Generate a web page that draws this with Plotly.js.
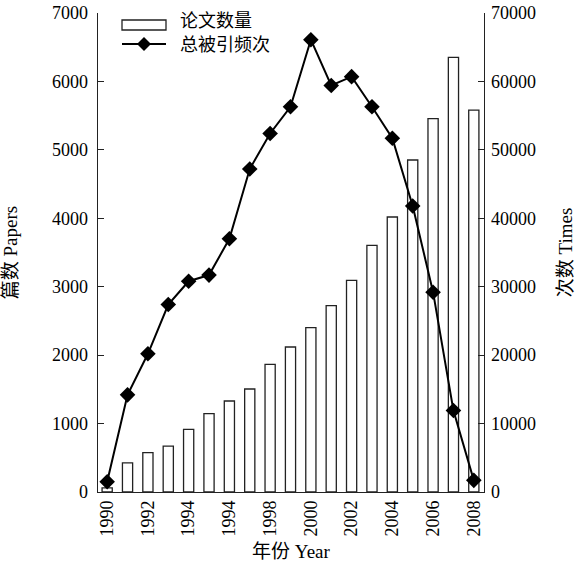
<!DOCTYPE html>
<html>
<head>
<meta charset="utf-8">
<script src="https://cdn.plot.ly/plotly-3.0.1.min.js"></script>
<style>html,body{margin:0;padding:0;background:#fff;}#chart{width:576px;height:569px;}</style>
</head>
<body>
<div id="chart"></div>
<script>
// Data
const years = [1990,1991,1992,1993,1994,1995,1996,1997,1998,1999,2000,2001,2002,2003,2004,2005,2006,2007,2008];
const papers = [60,425,575,670,916,1145,1330,1505,1866,2119,2401,2723,3093,3605,4019,4852,5456,6352,5582];
const citations = [1500,14200,20200,27400,30800,31700,37000,47200,52400,56300,66100,59400,60700,56300,51700,41800,29200,11900,1700];
const tickYears = [1990,1992,1994,1996,1998,2000,2002,2004,2006,2008];
const tickLabels = ['1990','1992','1994','1994','1998','2000','2002','2004','2006','2008'];
const seriesNames = ['论文数量','总被引频次'];

const FONT = 'Liberation Serif, "Times New Roman", "Noto Sans CJK SC", serif';

const traces = [
  {
    type: 'bar', x: years, y: papers, name: seriesNames[0],
    width: 0.5,
    marker: {color: '#ffffff', line: {color: '#222222', width: 1.3}},
    yaxis: 'y', showlegend: false, hoverinfo: 'skip'
  },
  {
    type: 'scatter', mode: 'lines+markers', x: years, y: citations, name: seriesNames[1],
    line: {color: '#000000', width: 2},
    marker: {symbol: 'diamond', size: 12, color: '#000000'},
    yaxis: 'y2', showlegend: false, hoverinfo: 'skip'
  }
];

const L = 98, R = 484, T = 13, B = 492;
const px = v => (v - L) / (R - L);
const py = v => (B - v) / (B - T);

const layout = {
  width: 576, height: 569,
  margin: {l: L, r: 576 - R, t: T, b: 569 - B},
  paper_bgcolor: '#ffffff', plot_bgcolor: '#ffffff',
  font: {family: FONT, color: '#000000', size: 18},
  showlegend: false,
  xaxis: {
    range: [1989.55, 2008.5],
    tickmode: 'array', tickvals: tickYears, ticktext: tickLabels,
    tickangle: -90, ticks: '', showgrid: false, zeroline: false,
    showline: true, linecolor: '#222222', linewidth: 1.3,
    tickfont: {family: FONT, size: 18},
    title: {text: '年份 Year', font: {family: FONT, size: 19}, standoff: 9}
  },
  yaxis: {
    range: [0, 7000], tickmode: 'linear', tick0: 0, dtick: 1000, tickformat: 'd',
    ticks: 'inside', ticklen: 6, tickcolor: '#222222', tickwidth: 1.2,
    ticklabelstandoff: 5,
    showgrid: false, zeroline: false,
    showline: true, linecolor: '#222222', linewidth: 1.3,
    tickfont: {family: FONT, size: 18},
    title: {text: '篇数 Papers', font: {family: FONT, size: 19}, standoff: 30}
  },
  yaxis2: {
    range: [0, 70000], tickmode: 'linear', tick0: 0, dtick: 10000, tickformat: 'd',
    overlaying: 'y', side: 'right',
    ticks: 'inside', ticklen: 6, tickcolor: '#222222', tickwidth: 1.2,
    ticklabelstandoff: 2,
    showgrid: false, zeroline: false,
    showline: true, linecolor: '#222222', linewidth: 1.3,
    tickfont: {family: FONT, size: 18},
    title: {text: '次数 Times', font: {family: FONT, size: 19}, standoff: 24}
  },
  shapes: [
    {type: 'rect', xref: 'paper', yref: 'paper', x0: px(122), x1: px(166), y0: py(30), y1: py(20),
     line: {color: '#222222', width: 1.3}, fillcolor: '#ffffff'},
    {type: 'line', xref: 'paper', yref: 'paper', x0: px(122), x1: px(166), y0: py(44), y1: py(44),
     line: {color: '#000000', width: 2}},
    {type: 'path', xref: 'paper', yref: 'paper', xsizemode: 'pixel', ysizemode: 'pixel',
     xanchor: px(144), yanchor: py(44), path: 'M -7 0 L 0 7 L 7 0 L 0 -7 Z',
     line: {color: '#000000', width: 0}, fillcolor: '#000000'}
  ],
  annotations: [
    {xref: 'paper', yref: 'paper', x: px(178), y: py(21), xanchor: 'left', yanchor: 'middle',
     text: seriesNames[0], showarrow: false, font: {family: FONT, size: 18}},
    {xref: 'paper', yref: 'paper', x: px(178), y: py(45), xanchor: 'left', yanchor: 'middle',
     text: seriesNames[1], showarrow: false, font: {family: FONT, size: 18}}
  ]
};

Plotly.newPlot('chart', traces, layout, {displayModeBar: false, staticPlot: true});
</script>
</body>
</html>
